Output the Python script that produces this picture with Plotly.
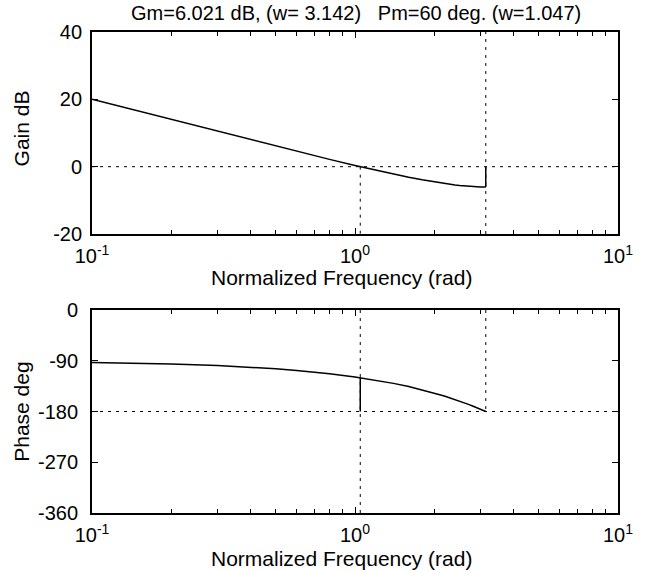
import plotly.graph_objects as go

# ---- data ----
freq = [0.1, 0.15, 0.2, 0.3, 0.4, 0.5, 0.6, 0.7, 0.8, 1.0, 1.2, 1.4, 1.6, 1.8,
        2.0, 2.1, 2.2, 2.3, 2.4, 2.5, 2.6, 2.7, 2.8, 2.9, 3.0, 3.1, 3.142]
gain_db = [20.0, 16.49, 13.99, 10.49, 8.02, 6.11, 4.57, 3.28, 2.17, 0.36, -1.06,
           -2.20, -3.14, -3.90, -4.52, -4.79, -5.02, -5.23, -5.41, -5.57, -5.70,
           -5.81, -5.89, -5.96, -6.00, -6.02, -6.02]
phase_deg = [-92.9, -94.3, -95.7, -98.6, -101.5, -104.3, -107.2, -110.1, -112.9,
             -118.6, -124.4, -130.1, -135.8, -141.6, -147.3, -150.2, -153.0,
             -155.9, -158.8, -161.6, -164.5, -167.3, -170.2, -173.1, -175.9,
             -178.8, -180.0]
gm_db = 6.021
wcg = 3.142
pm_deg = 60
wcp = 1.047

x_ticks = [0.1, 1, 10]
x_ticktext = ["10<sup>-1</sup>", "10<sup>0</sup>", "10<sup>1</sup>"]
x_minor = [0.2, 0.3, 0.4, 0.5, 0.6, 0.7, 0.8, 0.9, 2, 3, 4, 5, 6, 7, 8, 9]
gain_ticks = [-20, 0, 20, 40]
gain_ticktext = ["-20", "0", "20", "40"]
phase_ticks = [-360, -270, -180, -90, 0]
phase_ticktext = ["-360", "-270", "-180", "-90", "0"]
x_range = [0.1, 10]
gain_range = [-20, 40]
phase_range = [-360, 0]

title_text = "Gm=6.021 dB, (w= 3.142)   Pm=60 deg. (w=1.047)"
xlabel = "Normalized Frequency (rad)"
gain_label = "Gain dB"
phase_label = "Phase deg"

FONT = "Liberation Sans, Arial, Helvetica, sans-serif"
BLACK = "#000000"
DOT = "3px,5px"
TICK_SIZE = 20
LABEL_SIZE = 21
TITLE_SIZE = 20

fig = go.Figure()

def line(x, y, xa, ya, dash=None, width=1.5):
    fig.add_trace(go.Scatter(x=x, y=y, xaxis=xa, yaxis=ya, mode="lines",
                             line=dict(color=BLACK, width=width, dash=dash),
                             hoverinfo="skip", showlegend=False))

# gain subplot: guide lines
line(x_range, [0, 0], "x", "y", DOT, 1)
line([wcp, wcp], [0, gain_range[0]], "x", "y", DOT, 1)
line([wcg, wcg], gain_range, "x", "y", DOT, 1)
line(freq, gain_db, "x", "y")
line([wcg, wcg], [-gm_db, 0], "x", "y")

# phase subplot: guide lines
line(x_range, [-180, -180], "x2", "y2", DOT, 1)
line([wcp, wcp], phase_range, "x2", "y2", DOT, 1)
line([wcg, wcg], [phase_range[1], -180], "x2", "y2", DOT, 1)
line(freq, phase_deg, "x2", "y2")
line([wcp, wcp], [-180, -180 + pm_deg], "x2", "y2")

axis_common = dict(showline=True, linecolor=BLACK, linewidth=1.8, mirror="allticks",
                   ticks="inside", tickcolor=BLACK, tickwidth=1, showgrid=False,
                   zeroline=False,
                   tickfont=dict(size=TICK_SIZE, color=BLACK, family=FONT))

xaxis_common = dict(axis_common, type="log", range=[-1, 1], tickmode="array",
                    tickvals=x_ticks, ticktext=x_ticktext, ticklen=6,
                    ticklabelstandoff=3,
                    minor=dict(tickvals=x_minor, ticks="inside", ticklen=4,
                               tickcolor=BLACK, tickwidth=1))

lab_font = dict(size=LABEL_SIZE, color=BLACK, family=FONT)

fig.update_layout(
    width=645, height=571,
    margin=dict(l=92, r=25, t=32, b=58),
    paper_bgcolor="white", plot_bgcolor="white",
    font=dict(family=FONT, color=BLACK, size=TICK_SIZE),
    xaxis=dict(xaxis_common, domain=[0, 1], anchor="y"),
    yaxis=dict(axis_common, domain=[0.58, 1], range=gain_range, tickmode="array",
               tickvals=gain_ticks, ticktext=gain_ticktext, ticklen=6,
               ticklabelstandoff=4),
    xaxis2=dict(xaxis_common, domain=[0, 1], anchor="y2"),
    yaxis2=dict(axis_common, domain=[0, 0.422], range=phase_range, tickmode="array",
                tickvals=phase_ticks, ticktext=phase_ticktext, ticklen=6,
                ticklabelstandoff=8),
    annotations=[
        dict(text=title_text, xref="paper", yref="paper", x=0.502, y=1.0395,
             xanchor="center", yanchor="middle", showarrow=False,
             font=dict(size=TITLE_SIZE, color=BLACK, family=FONT)),
        dict(text=xlabel, xref="paper", yref="paper", x=0.4735, y=0.4886,
             xanchor="center", yanchor="middle", showarrow=False, font=lab_font),
        dict(text=xlabel, xref="paper", yref="paper", x=0.4735, y=-0.0936,
             xanchor="center", yanchor="middle", showarrow=False, font=lab_font),
        dict(text=gain_label, xref="paper", yref="paper", x=-0.1345, y=0.80,
             textangle=-90, xanchor="center", yanchor="middle", showarrow=False,
             font=lab_font),
        dict(text=phase_label, xref="paper", yref="paper", x=-0.1345, y=0.211,
             textangle=-90, xanchor="center", yanchor="middle", showarrow=False,
             font=lab_font),
    ],
)

fig.write_html("out.html")
